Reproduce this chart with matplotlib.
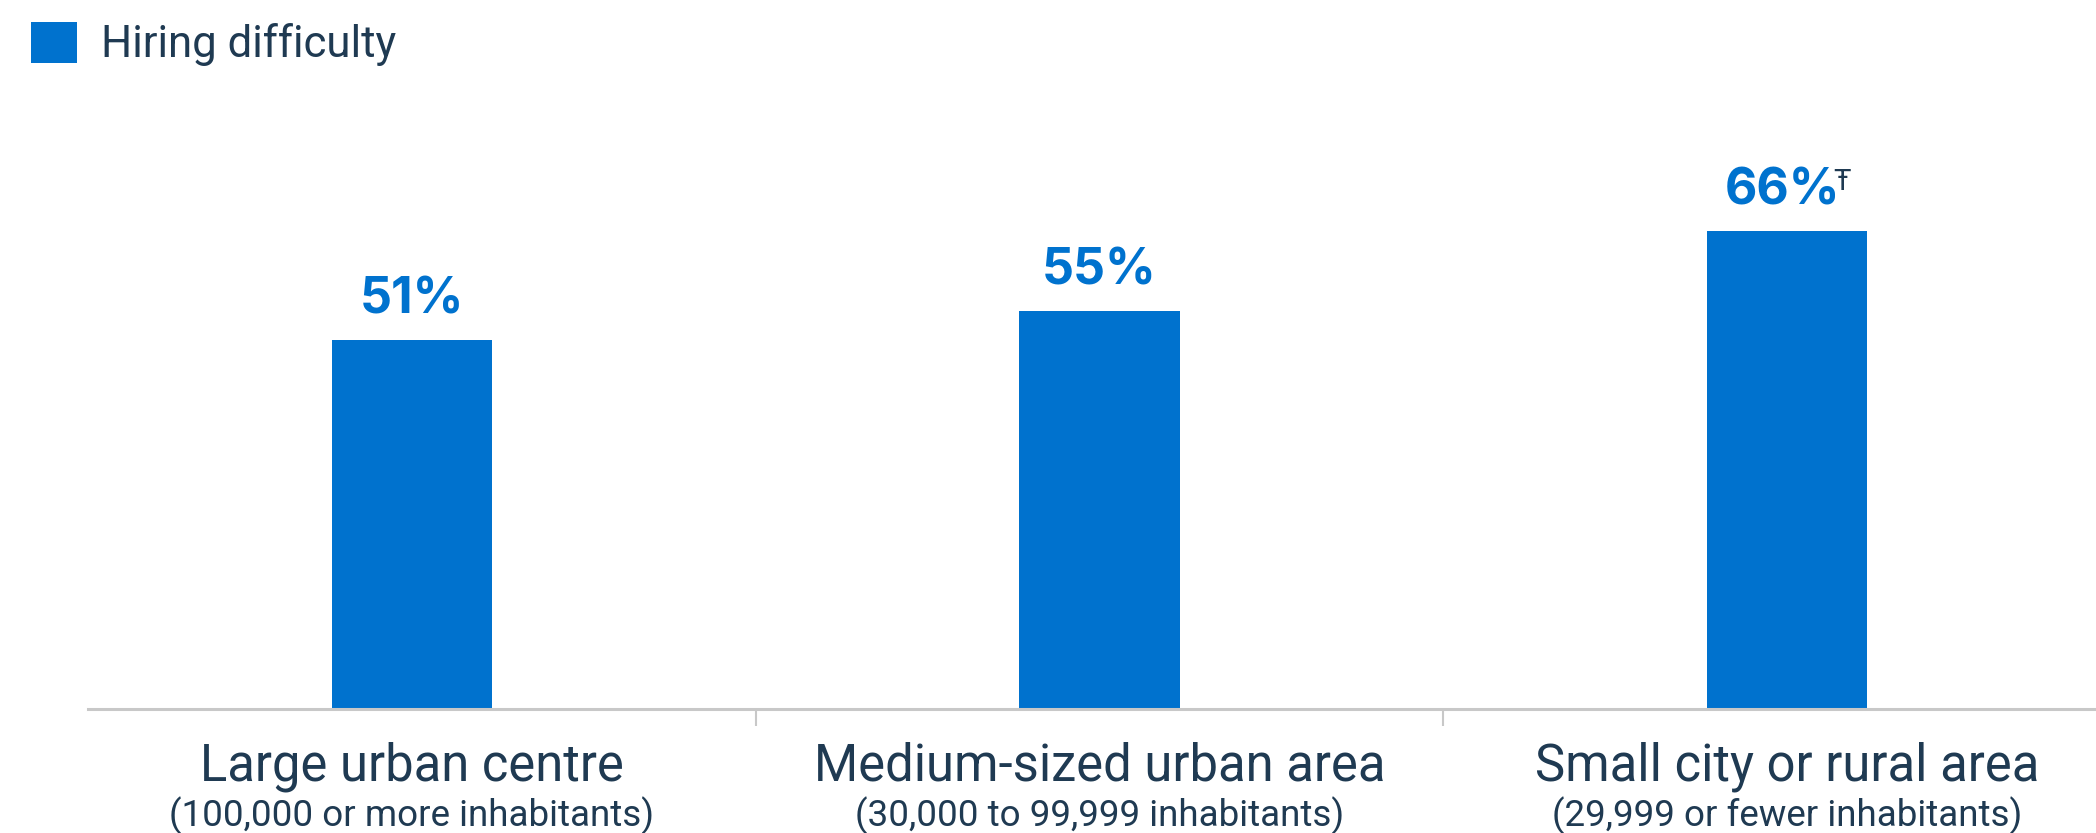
import matplotlib
matplotlib.use("Agg")
import matplotlib.pyplot as plt

categories = ["Large urban centre", "Medium-sized urban area", "Small city or rural area"]
subtitles = ["(100,000 or more inhabitants)", "(30,000 to 99,999 inhabitants)", "(29,999 or fewer inhabitants)"]
values = [51, 55, 66]
value_labels = ["51%", "55%", "66%"]
footnotes = ["", "", "Ŧ"]
series_name = "Hiring difficulty"

BLUE = "#0072CE"
NAVY = "#1F3A52"
GREY = "#C8C8C8"
FONT = ["Roboto", "DejaVu Sans"]
plt.rcParams["font.family"] = FONT

W, H, DPI = 2096, 833, 100
fig = plt.figure(figsize=(W / DPI, H / DPI), dpi=DPI)
ax = fig.add_axes([88 / W, (H - 709) / H, (W - 88) / W, 709 / H])

x = list(range(len(categories)))
bars = ax.bar(x, values, width=0.233, color=BLUE, label=series_name, zorder=2)

ax.set_ylim(0, 97.9)
ax.set_xlim(-0.471, 2.449)
for s in ["top", "right", "left"]:
    ax.spines[s].set_visible(False)
ax.spines["bottom"].set_color(GREY)
ax.spines["bottom"].set_linewidth(2.2)
ax.set_yticks([])
ax.set_xticks([])
ax.set_xticks([0.5, 1.5], minor=True)
ax.tick_params(axis="x", which="minor", length=12, width=1.5, color=GREY, direction="out")

marks = []
for xi, v, lab, fn in zip(x, values, value_labels, footnotes):
    t = ax.annotate(lab, xy=(xi, v), xytext=(0, 19), textcoords="offset points",
                    ha="center", va="baseline", fontsize=36, fontweight="bold", color=BLUE,
                    family=["Inter", "DejaVu Sans"])
    if fn:
        m = ax.annotate(fn, xy=(1, 1), xycoords=t, xytext=(-5, 0), textcoords="offset points",
                        ha="left", va="top", fontsize=21, color=NAVY)
        marks.append((t, m))

for xi, c, s in zip(x, categories, subtitles):
    ax.annotate(c, xy=(xi, 0), xycoords=("data", "axes fraction"), xytext=(0, -41.5),
                textcoords="offset points", ha="center", va="center", fontsize=36.5, color=NAVY)
    ax.annotate(s, xy=(xi, 0), xycoords=("data", "axes fraction"), xytext=(0, -77),
                textcoords="offset points", ha="center", va="center", fontsize=26.5, color=NAVY)

leg = fig.legend(handles=[bars], labels=[series_name], loc="upper left",
                 bbox_to_anchor=(31 / W, 1 - 22 / H), frameon=False, fontsize=31.5,
                 handlelength=1.05, handleheight=1.05, handletextpad=0.55, borderpad=0,
                 borderaxespad=0, labelcolor=NAVY)

fig.canvas.draw()
r = fig.canvas.get_renderer()
for t, m in marks:
    w = (m.get_window_extent(r).width * 72 / DPI) - 5
    t.xyann = (-w / 2, t.xyann[1])

fig.savefig("out.png", dpi=DPI)
